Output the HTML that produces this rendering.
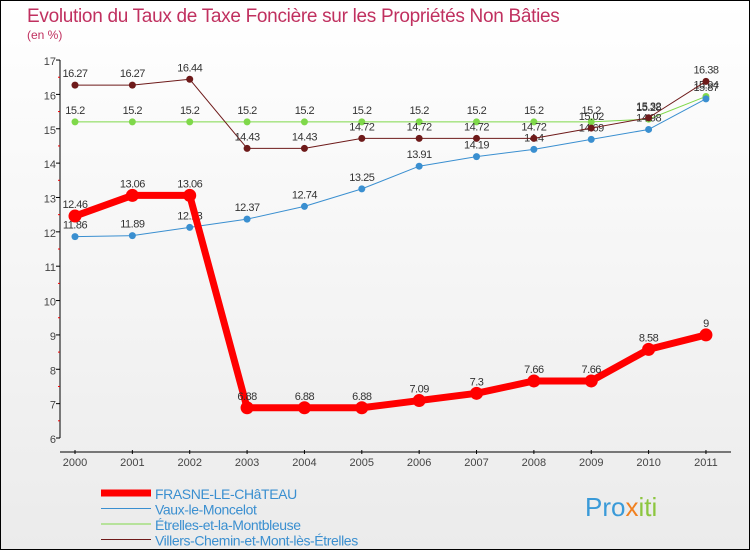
<!DOCTYPE html>
<html><head><meta charset="utf-8"><style>
body{margin:0;}
#c{width:748px;height:548px;border:1px solid #000;background:linear-gradient(#fff,#ebebeb);position:relative;font-family:"Liberation Sans",sans-serif;overflow:hidden}
</style></head><body>
<div id="c">
<svg id="s" width="748" height="548">
<text x="26" y="21" font-size="19" fill="#c0305f" letter-spacing="-0.3">Evolution du Taux de Taxe Foncière sur les Propriétés Non Bâties</text>
<text x="26" y="38" font-size="12" fill="#c0305f">(en %)</text>
<text x="584" y="515" font-size="26" fill="#3a9ad8">Pro<tspan fill="#f08020">x</tspan><tspan fill="#8cc63f">iti</tspan></text>
</svg>
</div>
<script>
const years=[2000,2001,2002,2003,2004,2005,2006,2007,2008,2009,2010,2011];
const frasne=[12.46,13.06,13.06,6.88,6.88,6.88,7.09,7.3,7.66,7.66,8.58,9];
const vaux=[11.86,11.89,12.13,12.37,12.74,13.25,13.91,14.19,14.4,14.69,14.98,15.87];
const etrelles=[15.2,15.2,15.2,15.2,15.2,15.2,15.2,15.2,15.2,15.2,15.28,15.94];
const villers=[16.27,16.27,16.44,14.43,14.43,14.72,14.72,14.72,14.72,15.02,15.32,16.38];
const yTicks=[6,7,8,9,10,11,12,13,14,15,16,17];
const NS='http://www.w3.org/2000/svg';
const s=document.getElementById('s');
const X=i=>74+i*57.36, Y=v=>437-(v-6)*34.36;
function mk(t,a,p){const e=document.createElementNS(NS,t);for(const k in a)e.setAttribute(k,a[k]);(p||s).appendChild(e);return e;}
const ax=mk('line',{x1:59,y1:Y(17),x2:59,y2:Y(6),stroke:'#000'});


yTicks.forEach(v=>{
 const t=mk('text',{x:55,y:Y(v)+5,'font-size':11,fill:'#444','text-anchor':'end'});t.textContent=v;
 
 
 mk('line',{x1:55,x2:59,y1:Y(v),y2:Y(v),stroke:'#000'});
 if(v<17)mk('line',{x1:57,x2:59,y1:Y(v+0.5),y2:Y(v+0.5),stroke:'#e00'});
});
years.forEach((y,i)=>{
 const t=mk('text',{x:X(i),y:465,'font-size':11,fill:'#444','text-anchor':'middle'});t.textContent=y;
 
 
 mk('line',{x1:X(i),x2:X(i),y1:449,y2:453,stroke:'#000'});
});
const bl=mk('line',{x1:59,x2:730,y1:451,y2:451,stroke:'#000'});


function series(d,col,lw,r,name){
 const g=mk('g',{});
 
 
 mk('polyline',{points:d.map((v,i)=>X(i)+','+Y(v)).join(' '),fill:'none',stroke:col,'stroke-width':lw,'stroke-linejoin':'round'},g);
 d.forEach((v,i)=>{
  const c=mk('circle',{cx:X(i),cy:Y(v),r:r,fill:col},g);
  
  
  const t=mk('text',{x:X(i),y:Y(v)-8,'font-size':11,fill:'#333','text-anchor':'middle','letter-spacing':'-0.5'},g);t.textContent=v;
 });
}
series(etrelles,'#7fd84a',1,3.5,'series-etrelles');
series(vaux,'#3a8fd0',1,3.5,'series-vaux');
series(villers,'#6e1a1a',1,3.5,'series-villers');
series(frasne,'#f00',7,6.5,'series-frasne');
const leg=[['FRASNE-LE-CHâTEAU','#f00',7],['Vaux-le-Moncelot','#3a8fd0',1],['Étrelles-et-la-Montbleuse','#7fd84a',1],['Villers-Chemin-et-Mont-lès-Étrelles','#6e1a1a',1]];
leg.forEach((l,i)=>{
 const y=492+i*15.5;
 const g=mk('g',{});
 
 
 mk('line',{x1:100,x2:150,y1:y,y2:y,stroke:l[1],'stroke-width':l[2]},g);
 const t=mk('text',{x:154,y:y+6,'font-size':14,fill:'#3a8fd0','letter-spacing':'-0.4'},g);t.textContent=l[0];
});
</script>
</body></html>
